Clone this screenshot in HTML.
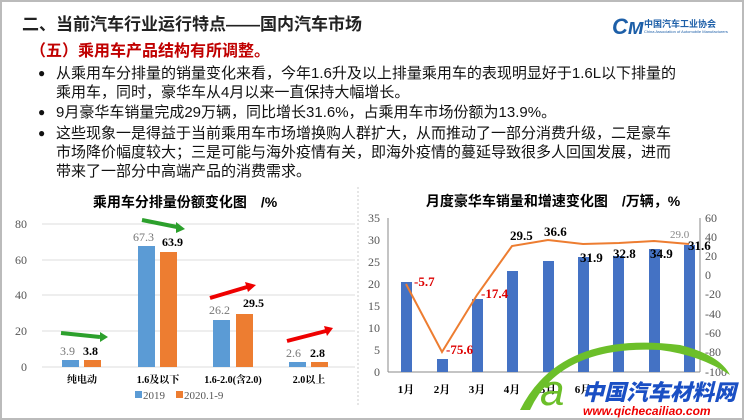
<!DOCTYPE html>
<html><head><meta charset="utf-8"><style>
body{margin:0;width:744px;height:420px;overflow:hidden;background:#fff;font-family:"Liberation Sans","Noto Sans CJK SC",sans-serif;position:relative}
.frame{position:absolute;left:0;top:0;width:740px;height:416px;border:2px solid #bbb}
.t{position:absolute;white-space:nowrap}
.bul{position:absolute;left:56px;font-size:15px;color:#111;line-height:19px;white-space:nowrap}
.bul:before{content:"●";position:absolute;left:-18px;font-size:12px}
</style></head><body>
<div class="frame"></div>
<div class="t" style="left:22px;top:10px;font-size:17px;font-weight:bold;color:#222">二、当前汽车行业运行特点——国内汽车市场</div>
<div class="t" style="left:30px;top:37px;font-size:16px;font-weight:bold;color:#c00000">（五）乘用车产品结构有所调整。</div>
<div class="t" style="left:612px;top:14px;font-size:22px;font-weight:bold;color:#1d5fa8;font-style:italic">Cм</div>
<div class="t" style="left:644px;top:17px;font-size:9px;font-weight:bold;color:#1d5fa8">中国汽车工业协会</div>
<div class="t" style="left:644px;top:29px;font-size:4px;color:#1d5fa8">China Association of Automobile Manufacturers</div>
<div class="bul" style="top:64px">从乘用车分排量的销量变化来看，今年1.6升及以上排量乘用车的表现明显好于1.6L以下排量的<br>乘用车，同时，豪华车从4月以来一直保持大幅增长。</div>
<div class="bul" style="top:103px">9月豪华车销量完成29万辆，同比增长31.6%，占乘用车市场份额为13.9%。</div>
<div class="bul" style="top:124px">这些现象一是得益于当前乘用车市场增换购人群扩大，从而推动了一部分消费升级，二是豪车<br>市场降价幅度较大；三是可能与海外疫情有关，即海外疫情的蔓延导致很多人回国发展，进而<br>带来了一部分中高端产品的消费需求。</div>
<svg width="744" height="420" style="position:absolute;left:0;top:0" font-family="Liberation Serif,Noto Serif CJK SC,serif">
<text x="185" y="207" font-size="14" font-weight="bold" text-anchor="middle" font-family="Liberation Sans,Noto Sans CJK SC,sans-serif">乘用车分排量份额变化图　/%</text>
<g stroke="#ddd" stroke-width="1"><line x1="42" x2="355" y1="224" y2="224"/><line x1="42" x2="355" y1="260" y2="260"/><line x1="42" x2="355" y1="295" y2="295"/><line x1="42" x2="355" y1="331" y2="331"/><line x1="42" x2="355" y1="367" y2="367"/></g>
<g font-size="12" fill="#555" text-anchor="end"><text x="27" y="228">80</text><text x="27" y="264">60</text><text x="27" y="299">40</text><text x="27" y="335">20</text><text x="27" y="371">0</text></g>
<g fill="#5b9bd5"><rect x="62" y="360" width="17" height="7"/><rect x="138" y="246" width="17" height="121"/><rect x="213" y="320" width="17" height="47"/><rect x="289" y="362" width="17" height="5"/></g>
<g fill="#ed7d31"><rect x="84" y="360" width="17" height="7"/><rect x="160" y="252" width="17" height="115"/><rect x="236" y="314" width="17" height="53"/><rect x="311" y="362" width="17" height="5"/></g>
<g font-size="12"><text x="60" y="355" fill="#777">3.9</text><text x="83" y="355" font-weight="bold">3.8</text>
<text x="133" y="241" fill="#777">67.3</text><text x="162" y="246" font-weight="bold">63.9</text>
<text x="209" y="314" fill="#777">26.2</text><text x="243" y="307" font-weight="bold">29.5</text>
<text x="286" y="357" fill="#777">2.6</text><text x="310" y="357" font-weight="bold">2.8</text></g>
<g font-size="10" font-weight="bold" text-anchor="middle"><text x="82" y="383">纯电动</text><text x="158" y="383">1.6及以下</text><text x="233" y="383">1.6-2.0(含2.0)</text><text x="309" y="383">2.0以上</text></g>
<rect x="135" y="391" width="7" height="7" fill="#5b9bd5"/><text x="143" y="399" font-size="11" fill="#555">2019</text>
<rect x="176" y="391" width="7" height="7" fill="#ed7d31"/><text x="184" y="399" font-size="11" fill="#555">2020.1-9</text>
<g stroke-width="4"><line x1="61" y1="333" x2="100" y2="337" stroke="#2ca02c"/><line x1="142" y1="220" x2="177" y2="227" stroke="#2ca02c"/><line x1="210" y1="298" x2="247" y2="287" stroke="#e00"/><line x1="287" y1="341" x2="326" y2="331" stroke="#e00"/></g>
<g><polygon points="100,332 108,337 100,342" fill="#2ca02c"/><polygon points="176,222 185,229 176,233" fill="#2ca02c"/><polygon points="245,282 256,285 248,292" fill="#e00"/><polygon points="324,326 333,328 327,336" fill="#e00"/></g>
<line x1="358" y1="187" x2="358" y2="405" stroke="#ccc" stroke-dasharray="2,2"/>
<text x="553" y="206" font-size="14" font-weight="bold" text-anchor="middle" font-family="Liberation Sans,Noto Sans CJK SC,sans-serif">月度豪华车销量和增速变化图　/万辆，%</text>
<line x1="388" y1="218" x2="388" y2="372" stroke="#888"/><line x1="700" y1="218" x2="700" y2="372" stroke="#888"/><line x1="388" y1="372" x2="700" y2="372" stroke="#888"/>
<g font-size="12" fill="#555" text-anchor="end"><text x="380" y="222">35</text><text x="380" y="244">30</text><text x="380" y="266">25</text><text x="380" y="288">20</text><text x="380" y="310">15</text><text x="380" y="332">10</text><text x="380" y="354">5</text><text x="380" y="376">0</text></g>
<g font-size="12" fill="#555"><text x="705" y="222">60</text><text x="705" y="241">40</text><text x="705" y="260">20</text><text x="705" y="279">0</text><text x="705" y="298">-20</text><text x="705" y="318">-40</text><text x="705" y="337">-60</text><text x="705" y="356">-80</text><text x="705" y="376">-100</text></g>
<g fill="#4472c4"><rect x="401" y="282" width="11" height="90"/><rect x="437" y="359" width="11" height="13"/><rect x="472" y="299" width="11" height="73"/><rect x="507" y="271" width="11" height="101"/><rect x="543" y="261" width="11" height="111"/><rect x="578" y="257" width="11" height="115"/><rect x="613" y="256" width="11" height="116"/><rect x="649" y="249" width="11" height="123"/><rect x="684" y="245" width="11" height="127"/></g>
<polyline fill="none" stroke="#ed7d31" stroke-width="2" points="406,284 442,352 477,295 512,246 548,240 583,244 619,243 654,241 689,244"/>
<g font-size="13" font-weight="bold"><text x="414" y="286" fill="#d00">-5.7</text><text x="446" y="354" fill="#d00">-75.6</text><text x="481" y="298" fill="#d00">-17.4</text>
<text x="510" y="240">29.5</text><text x="544" y="236">36.6</text><text x="580" y="262">31.9</text><text x="613" y="258">32.8</text><text x="650" y="258">34.9</text><text x="688" y="250">31.6</text></g>
<text x="670" y="238" font-size="11" fill="#888">29.0</text>
<g font-size="11" font-weight="bold" text-anchor="middle"><text x="406" y="393">1月</text><text x="442" y="393">2月</text><text x="477" y="393">3月</text><text x="512" y="393">4月</text><text x="548" y="393">5月</text><text x="583" y="393">6月</text></g>
<path d="M520,410 Q560,330 680,345 Q720,355 730,375 Q700,355 660,350 Q560,345 530,410 Z" fill="#6cbf2a"/>
<text x="582" y="400" font-size="22" font-weight="900" fill="#1a4fc4" font-style="italic" font-family="Liberation Sans,Noto Sans CJK SC,sans-serif">中国汽车材料网</text>
<text x="583" y="415" font-size="12" font-weight="bold" fill="#e00" font-style="italic" font-family="Liberation Sans,sans-serif">www.qichecailiao.com</text>
<text x="540" y="405" font-size="44" fill="#6cbf2a" font-style="italic" font-family="Liberation Sans,sans-serif">a</text>
</svg>
</body></html>
